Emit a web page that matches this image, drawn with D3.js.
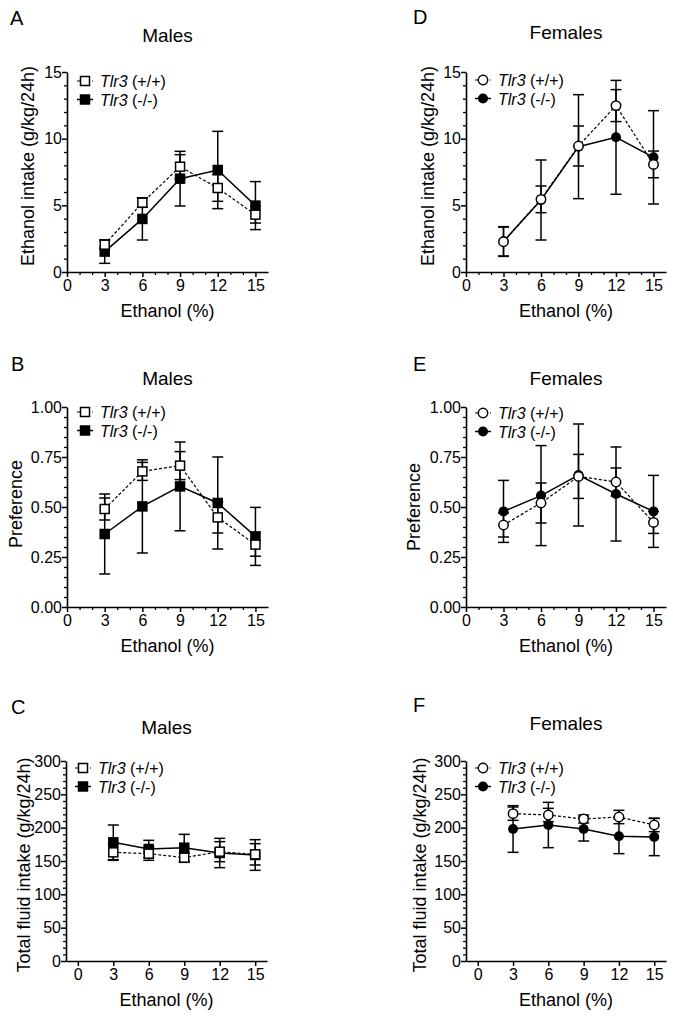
<!DOCTYPE html>
<html><head><meta charset="utf-8">
<script src="https://cdn.jsdelivr.net/npm/d3@7"></script>
<style>
html,body{margin:0;padding:0;background:#fff;}
svg{display:block;font-family:"Liberation Sans",Arial,Helvetica,sans-serif;}
</style></head>
<body>
<svg id="chart" width="673" height="1017"></svg>
<script>
// ---- data ----
const conc = [3, 6, 9, 12, 15];
const xTickVals = [0, 3, 6, 9, 12, 15];
const legendLabels = ["(+/+)", "(-/-)"];
const geneName = "Tlr3";

const maleIntakeWT = [2.05, 5.2, 7.9, 6.3, 4.3];
const maleIntakeWTErr = [0.3, 0.35, 0.9, 1.0, 0.63];
const maleIntakeKO = [1.53, 3.98, 7.0, 7.65, 4.98];
const maleIntakeKOErr = [0.88, 1.58, 2.05, 2.9, 1.8];

const femaleIntakeWT = [2.27, 5.45, 9.45, 12.48, 8.07];
const femaleIntakeWTErr = [1.1, 1.0, 1.5, 1.2, 1.0];
const femaleIntakeKO = [2.3, 5.4, 9.4, 10.1, 8.6];
const femaleIntakeKOErr = [1.1, 3.0, 3.9, 4.27, 3.5];

const malePrefWT = [0.49, 0.678, 0.707, 0.448, 0.312];
const malePrefWTErr = [0.055, 0.045, 0.07, 0.078, 0.058];
const malePrefKO = [0.365, 0.503, 0.603, 0.52, 0.353];
const malePrefKOErr = [0.2, 0.233, 0.222, 0.23, 0.145];

const femalePrefWT = [0.41, 0.52, 0.653, 0.625, 0.423];
const femalePrefWTErr = [0.06, 0.10, 0.11, 0.07, 0.055];
const femalePrefKO = [0.478, 0.557, 0.66, 0.565, 0.478];
const femalePrefKOErr = [0.155, 0.25, 0.255, 0.235, 0.18];

const maleTotalWT = [163, 161, 155, 164, 160];
const maleTotalWTErr = [12, 10, 7, 15, 16];
const maleTotalKO = [178, 168, 170, 162, 159];
const maleTotalKOErr = [26, 13, 20, 22, 23];

const femaleTotalWT = [221, 219, 213, 216, 204];
const femaleTotalWTErr = [10, 10, 6, 10, 10];
const femaleTotalKO = [198, 204, 198, 187, 186];
const femaleTotalKOErr = [35, 34, 18, 26, 28];

const intakeTicks = [0, 5, 10, 15];
const prefTicks = [0, 0.25, 0.5, 0.75, 1.0];
const totalTicks = [0, 50, 100, 150, 200, 250, 300];

// ---- drawing ----
const svg = d3.select("#chart");

function panel(c) {
  const x = d3.scaleLinear().domain(c.xDomain).range(c.xRange);
  const y = d3.scaleLinear().domain(c.yDomain).range(c.yRange);
  const g = svg.append("g");

  g.append("text").attr("x", c.letterPos[0]).attr("y", c.letterPos[1])
    .attr("font-size", 20).text(c.letter);
  g.append("text").attr("x", (c.xRange[0] + c.xRange[1]) / 2).attr("y", c.titleY)
    .attr("text-anchor", "middle").attr("font-size", 19).text(c.title);

  const y0 = c.yRange[0];
  const x0 = c.xRange[0];

  if (c.xMinor) {
    const gm = g.append("g").attr("transform", `translate(0,${y0})`)
      .call(d3.axisBottom(x).tickValues(d3.range(1, 16).filter(v => v % 3 !== 0))
        .tickSize(3).tickSizeOuter(0).tickFormat(""));
    gm.select(".domain").remove();
    gm.selectAll("line").attr("stroke-width", 1.3);
  }
  const gx = g.append("g").attr("transform", `translate(0,${y0})`)
    .call(d3.axisBottom(x).tickValues(xTickVals).tickSize(5).tickSizeOuter(0).tickPadding(3));
  gx.select(".domain").attr("stroke-width", 1.6);
  gx.selectAll("line").attr("stroke-width", 1.5);
  gx.selectAll("text").attr("font-size", 16).attr("fill", "#000");

  const gym = g.append("g").attr("transform", `translate(${x0},0)`)
    .call(d3.axisLeft(y).tickValues(c.yMinor).tickSize(3).tickSizeOuter(0).tickFormat(""));
  gym.select(".domain").remove();
  gym.selectAll("line").attr("stroke-width", 1.3);
  const gy = g.append("g").attr("transform", `translate(${x0},0)`)
    .call(d3.axisLeft(y).tickValues(c.yTicks).tickSize(5).tickSizeOuter(0).tickPadding(0)
      .tickFormat(c.yFmt));
  gy.select(".domain").attr("stroke-width", 1.6);
  gy.selectAll("line").attr("stroke-width", 1.5);
  gy.selectAll("text").attr("font-size", 16).attr("fill", "#000");

  g.append("text").attr("x", (c.xRange[0] + c.xRange[1]) / 2).attr("y", y0 + 45)
    .attr("text-anchor", "middle").attr("font-size", 18).text("Ethanol (%)");
  const yc = (c.yRange[0] + c.yRange[1]) / 2 + c.yTitleShift;
  g.append("text").attr("transform", `translate(${x0 + c.yTitleDx},${yc}) rotate(-90)`)
    .attr("text-anchor", "middle").attr("dy", "0.35em").attr("font-size", 18).text(c.yTitle);

  const series = [
    {vals: c.ko, err: c.koErr, filled: true},
    {vals: c.wt, err: c.wtErr, filled: false}
  ];

  series.forEach(s => {
    conc.forEach((cv, i) => {
      const cx = x(cv), hi = y(s.vals[i] + s.err[i]), lo = y(s.vals[i] - s.err[i]);
      g.append("line").attr("x1", cx).attr("x2", cx).attr("y1", hi).attr("y2", lo)
        .attr("stroke", "#000").attr("stroke-width", 1.5);
      [hi, lo].forEach(yy => g.append("line").attr("x1", cx - 5.5).attr("x2", cx + 5.5)
        .attr("y1", yy).attr("y2", yy).attr("stroke", "#000").attr("stroke-width", 1.5));
    });
  });

  const line = d3.line().x((d, i) => x(conc[i])).y(d => y(d));
  series.forEach(s => {
    g.append("path").datum(s.vals).attr("d", line).attr("fill", "none")
      .attr("stroke", "#000")
      .attr("stroke-width", s.filled ? 1.5 : 1.2)
      .attr("stroke-dasharray", s.filled ? null : "3,2");
  });

  function marker(px, py, filled) {
    if (c.shape === "square") {
      if (filled) g.append("rect").attr("x", px - 5.25).attr("y", py - 5.25).attr("width", 10.5).attr("height", 10.5).attr("fill", "#000");
      else g.append("rect").attr("x", px - 4.5).attr("y", py - 4.5).attr("width", 9).attr("height", 9)
        .attr("fill", "#fff").attr("stroke", "#000").attr("stroke-width", 1.5);
    } else {
      if (filled) g.append("circle").attr("cx", px).attr("cy", py).attr("r", 5).attr("fill", "#000");
      else g.append("circle").attr("cx", px).attr("cy", py).attr("r", 4.7)
        .attr("fill", "#fff").attr("stroke", "#000").attr("stroke-width", 1.5);
    }
  }
  series.forEach(s => s.vals.forEach((v, i) => marker(x(conc[i]), y(v), s.filled)));

  [false, true].forEach((filled, k) => {
    const lx = c.legend[0], ly = c.legend[1] + k * 18.5;
    g.append("line").attr("x1", lx - 8).attr("x2", lx + 8).attr("y1", ly).attr("y2", ly)
      .attr("stroke", "#000").attr("stroke-width", filled ? 1.5 : 1.2)
      .attr("stroke-dasharray", filled ? null : "3,2");
    marker(lx, ly, filled);
    const t = g.append("text").attr("x", lx + 15).attr("y", ly + 6).attr("font-size", 16);
    t.append("tspan").attr("font-style", "italic").text(geneName);
    t.append("tspan").text(" " + legendLabels[filled ? 1 : 0]);
  });
}

const fmt2 = d3.format(".2f");
const fmt0 = d3.format("d");
const minorIntake = d3.range(0, 16).filter(v => v % 5 !== 0);
const minorPref = d3.range(1, 20).map(v => v * 0.05).filter((v, i) => (i + 1) % 5 !== 0);
const minorTotal = d3.range(10, 300, 10).filter(v => v % 50 !== 0);

panel({letter: "A", letterPos: [10, 25], title: "Males", titleY: 42,
  xDomain: [0, 16], xRange: [67, 268], yDomain: [0, 15], yRange: [272, 72],
  yTicks: intakeTicks, yMinor: minorIntake, yFmt: fmt0, xMinor: true,
  yTitle: "Ethanol intake (g/kg/24h)", yTitleDx: -39, yTitleShift: -6,
  legend: [85, 81], shape: "square",
  wt: maleIntakeWT, wtErr: maleIntakeWTErr, ko: maleIntakeKO, koErr: maleIntakeKOErr});
panel({letter: "D", letterPos: [413, 24], title: "Females", titleY: 39,
  xDomain: [0, 16], xRange: [466, 666], yDomain: [0, 15], yRange: [272, 72],
  yTicks: intakeTicks, yMinor: minorIntake, yFmt: fmt0, xMinor: true,
  yTitle: "Ethanol intake (g/kg/24h)", yTitleDx: -38, yTitleShift: -6,
  legend: [483, 80], shape: "circle",
  wt: femaleIntakeWT, wtErr: femaleIntakeWTErr, ko: femaleIntakeKO, koErr: femaleIntakeKOErr});
panel({letter: "B", letterPos: [11, 371], title: "Males", titleY: 385,
  xDomain: [0, 16], xRange: [67, 268], yDomain: [0, 1], yRange: [607, 407],
  yTicks: prefTicks, yMinor: minorPref, yFmt: fmt2, xMinor: true,
  yTitle: "Preference", yTitleDx: -51, yTitleShift: -3,
  legend: [85, 412], shape: "square",
  wt: malePrefWT, wtErr: malePrefWTErr, ko: malePrefKO, koErr: malePrefKOErr});
panel({letter: "E", letterPos: [413, 371], title: "Females", titleY: 385,
  xDomain: [0, 16], xRange: [466, 666], yDomain: [0, 1], yRange: [607, 407],
  yTicks: prefTicks, yMinor: minorPref, yFmt: fmt2, xMinor: true,
  yTitle: "Preference", yTitleDx: -52, yTitleShift: 0,
  legend: [483, 413], shape: "circle",
  wt: femalePrefWT, wtErr: femalePrefWTErr, ko: femalePrefKO, koErr: femalePrefKOErr});
panel({letter: "C", letterPos: [11, 714], title: "Males", titleY: 734,
  xDomain: [-1, 16], xRange: [66, 267], yDomain: [0, 300], yRange: [961, 761],
  yTicks: totalTicks, yMinor: minorTotal, yFmt: fmt0, xMinor: false,
  yTitle: "Total fluid intake (g/kg/24h)", yTitleDx: -42, yTitleShift: 4,
  legend: [83, 768], shape: "square",
  wt: maleTotalWT, wtErr: maleTotalWTErr, ko: maleTotalKO, koErr: maleTotalKOErr});
panel({letter: "F", letterPos: [413, 712], title: "Females", titleY: 730,
  xDomain: [-1, 16], xRange: [466, 666], yDomain: [0, 300], yRange: [961, 761],
  yTicks: totalTicks, yMinor: minorTotal, yFmt: fmt0, xMinor: false,
  yTitle: "Total fluid intake (g/kg/24h)", yTitleDx: -46, yTitleShift: 4,
  legend: [483, 768], shape: "circle",
  wt: femaleTotalWT, wtErr: femaleTotalWTErr, ko: femaleTotalKO, koErr: femaleTotalKOErr});
</script>
</body></html>
